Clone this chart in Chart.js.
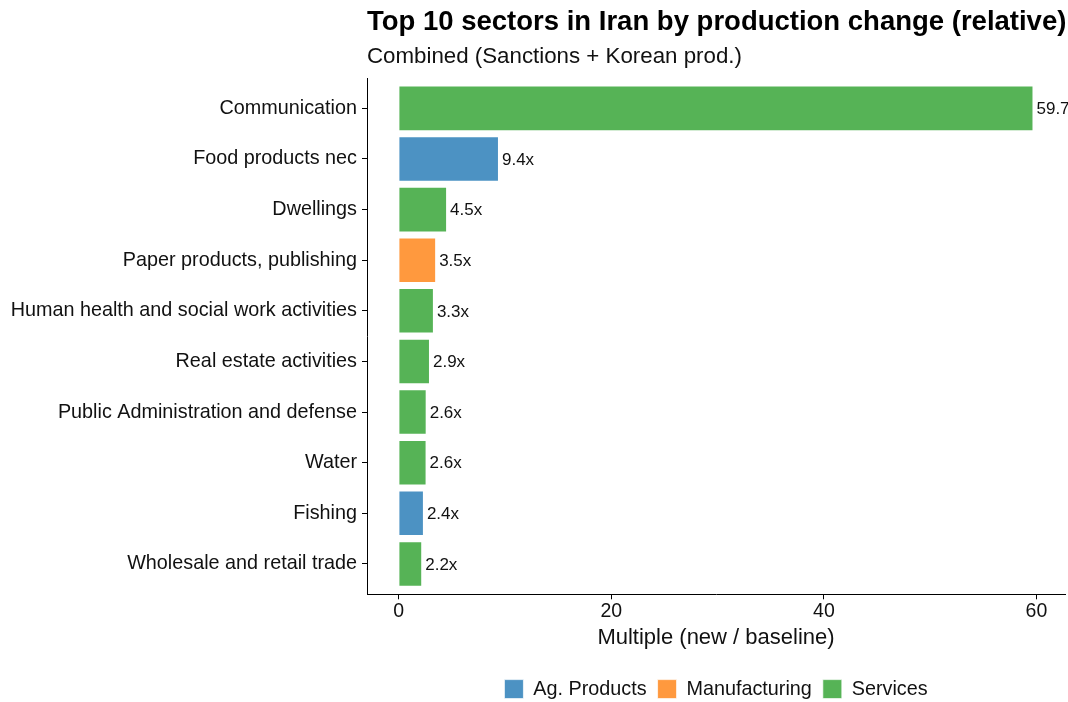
<!DOCTYPE html>
<html>
<head>
<meta charset="utf-8">
<script src="https://cdn.jsdelivr.net/npm/chart.js@4.4.1/dist/chart.umd.min.js"></script>
<style>
  html, body { margin: 0; padding: 0; background: #fff; }
  canvas { display: block; }
</style>
</head>
<body>
<canvas id="chart" width="1068" height="702"></canvas>
<script>
// Data (top to bottom)
const categories = [
    'Communication',
    'Food products nec',
    'Dwellings',
    'Paper products, publishing',
    'Human health and social work activities',
    'Real estate activities',
    'Public Administration and defense',
    'Water',
    'Fishing',
    'Wholesale and retail trade'
];
const multiples = [59.72, 9.43, 4.55, 3.52, 3.31, 2.94, 2.63, 2.62, 2.37, 2.21];
const sectorGroups = ['Services', 'Ag. Products', 'Services', 'Manufacturing', 'Services',
    'Services', 'Services', 'Services', 'Ag. Products', 'Services'];
const groupNames = ['Ag. Products', 'Manufacturing', 'Services'];
const groupColors = ['rgba(31,119,180,0.8)', 'rgba(255,127,14,0.8)', 'rgba(44,160,44,0.8)'];
const xTicks = [0, 20, 40, 60];

const FONT = "'Liberation Sans', Arial, sans-serif";
const INK = '#111';

// One dataset per group so the legend shows the three colours
const datasets = groupNames.map((name, g) => ({
    label: name,
    data: categories
        .map((c, i) => ({ x: multiples[i], y: i + 1, group: sectorGroups[i] }))
        .filter(p => p.group === name),
    backgroundColor: groupColors[g],
    borderColor: 'rgba(255,255,255,0.7)',
    borderWidth: 1,
    grouped: false,
    barPercentage: 0.9,
    categoryPercentage: 1.0
}));

// Title, subtitle and value labels
const annotate = {
    id: 'annotate',
    afterDatasetsDraw(chart) {
        const ctx = chart.ctx;
        ctx.save();
        ctx.fillStyle = INK;
        ctx.font = `17px ${FONT}`;
        ctx.textBaseline = 'middle';
        ctx.textAlign = 'left';
        chart.data.datasets.forEach((ds, d) => {
            chart.getDatasetMeta(d).data.forEach((bar, i) => {
                ctx.fillText(ds.data[i].x.toFixed(1) + 'x', bar.x + 3, bar.y + 1);
            });
        });
        ctx.restore();
    },
    afterDraw(chart) {
        const ctx = chart.ctx;
        const left = chart.chartArea.left;
        ctx.save();
        ctx.fillStyle = '#000';
        ctx.textAlign = 'left';
        ctx.textBaseline = 'alphabetic';
        ctx.font = `bold 27.5px ${FONT}`;
        ctx.fillText('Top 10 sectors in Iran by production change (relative)', left, 30);
        ctx.fillStyle = INK;
        ctx.font = `22.3px ${FONT}`;
        ctx.fillText('Combined (Sanctions + Korean prod.)', left, 63);
        ctx.restore();
    }
};

new Chart(document.getElementById('chart'), {
    type: 'bar',
    data: { datasets: datasets },
    plugins: [annotate],
    options: {
        indexAxis: 'y',
        responsive: false,
        animation: false,
        layout: { padding: { top: 78, right: 3, left: 0, bottom: -7 } },
        scales: {
            x: {
                type: 'linear',
                min: -2.985,
                max: 62.685,
                afterBuildTicks: scale => { scale.ticks = xTicks.map(v => ({ value: v })); },
                grid: { drawOnChartArea: false, tickLength: 5, color: '#000', lineWidth: 1 },
                border: { display: true, color: '#000', width: 1 },
                ticks: { color: INK, font: { family: FONT, size: 19.5, lineHeight: 1 }, padding: 3, maxRotation: 0 },
                title: {
                    display: true,
                    text: 'Multiple (new / baseline)',
                    color: INK,
                    font: { family: FONT, size: 22 },
                    padding: { top: 0, bottom: 17 }
                }
            },
            y: {
                type: 'linear',
                reverse: true,
                offset: false,
                min: 0.4,
                max: 10.6,
                afterBuildTicks: scale => { scale.ticks = categories.map((c, i) => ({ value: i + 1 })); },
                afterFit: scale => { scale.width = 367; },
                grid: { offset: false, drawOnChartArea: false, tickLength: 5, color: '#000', lineWidth: 1 },
                border: { display: true, color: '#000', width: 1 },
                ticks: {
                    color: INK,
                    font: { family: FONT, size: 19.8 },
                    padding: 5,
                    autoSkip: false,
                    callback: v => categories[v - 1]
                }
            }
        },
        plugins: {
            legend: {
                position: 'bottom',
                fullSize: false,
                labels: {
                    color: INK,
                    font: { family: FONT, size: 19.8, lineHeight: 1 },
                    boxWidth: 19,
                    boxHeight: 19,
                    padding: 11
                }
            },
            tooltip: { enabled: false }
        }
    }
});
</script>
</body>
</html>
